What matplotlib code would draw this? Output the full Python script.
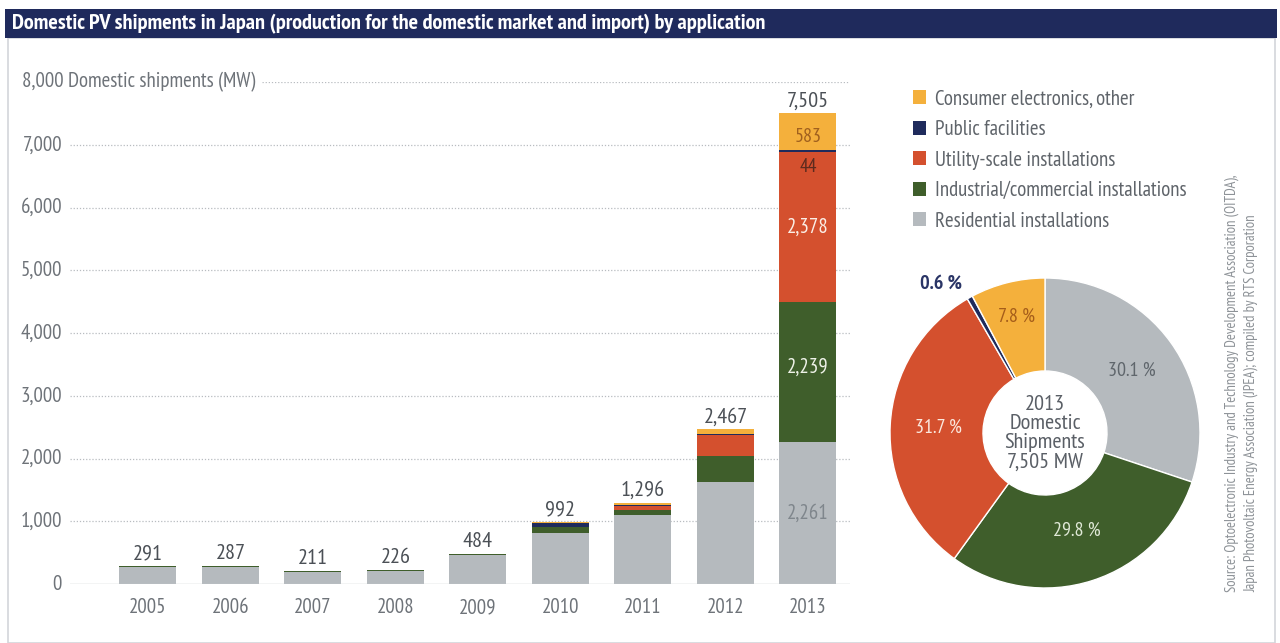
import matplotlib
matplotlib.use("Agg")
import matplotlib.pyplot as plt
from matplotlib.patches import Rectangle, Patch
from matplotlib.transforms import blended_transform_factory
import numpy as np

plt.rcParams['font.family'] = ['PT Sans Narrow', 'Fira Sans Condensed', 'DejaVu Sans']
plt.rcParams['font.stretch'] = 'condensed'

# domestic shipments by application, MW
years = ['2005', '2006', '2007', '2008', '2009', '2010', '2011', '2012', '2013']
residential = [278, 272, 196, 212, 455, 812, 1100, 1625, 2261]
industrial = [10, 10, 10, 8, 20, 95, 85, 415, 2239]
utility = [0, 0, 0, 0, 0, 5, 60, 335, 2378]
public = [1, 1, 1, 2, 5, 60, 11, 12, 44]
consumer = [2, 4, 4, 4, 4, 20, 40, 80, 583]
totals = [291, 287, 211, 226, 484, 992, 1296, 2467, 7505]

series_names = ['Residential installations', 'Industrial/commercial installations',
                'Utility-scale installations', 'Public facilities',
                'Consumer electronics, other']
colors = ['#b5babe', '#3f5e2b', '#d4502e', '#1f2b5c', '#f4b03c']
yticks = [0, 1000, 2000, 3000, 4000, 5000, 6000, 7000]
ytick_labels = ['0', '1,000', '2,000', '3,000', '4,000', '5,000', '6,000', '7,000']

W, H = 1280, 643
fig = plt.figure(figsize=(12.8, 6.43), dpi=100)
fig.patch.set_facecolor('white')

# header bar and frame
fig.patches.append(Rectangle((8 / W, 0.0), 1267 / W, 1 - 38 / H, transform=fig.transFigure,
                             facecolor='none', edgecolor='#d3d6da', linewidth=1.2))
fig.patches.append(Rectangle((5 / W, 1 - 38 / H), 1272 / W, 29 / H, transform=fig.transFigure,
                             facecolor='#1f2a5c', edgecolor='none'))
fig.text(12 / W, 1 - 24 / H,
         'Domestic PV shipments in Japan (production for the domestic market and import) by application',
         color='white', fontsize=16, fontweight='bold', va='center', ha='left')

# stacked bars
ax = fig.add_axes([70 / W, 1 - 584 / H, 780 / W, 502 / H])
x = np.arange(len(years))
stack = [residential, industrial, utility, public, consumer]
bottom = np.zeros(len(years))
for vals, c in zip(stack, colors):
    ax.bar(x, vals, width=0.69, bottom=bottom, color=c, zorder=2)
    bottom += np.array(vals)

ax.set_xlim(-0.945, 8.51)
ax.set_ylim(0, 8000)
for s in ax.spines.values():
    s.set_visible(False)
ax.set_yticks([])
ax.set_xticks(x)
ax.set_xticklabels(years, color='#6e7379', fontsize=15)
ax.tick_params(axis='x', length=0, pad=10)

for y in yticks[1:]:
    ax.axhline(y, color='#b8bcc0', lw=0.9, ls=(0, (1, 1.5)), zorder=1)
ax.axhline(8000, xmin=(262 - 70) / 780, color='#b8bcc0', lw=0.9, ls=(0, (1, 1.5)), zorder=1)
ax.axhline(0, color='#c4c7cb', lw=1.0, zorder=3)

tr = blended_transform_factory(fig.transFigure, ax.transData)
for y, lab in zip(yticks, ytick_labels):
    ax.text(62 / W, y, lab, transform=tr, ha='right', va='center',
            color='#6e7379', fontsize=15)
ax.text(22 / W, 8000, '8,000 Domestic shipments (MW)', transform=tr, ha='left',
        va='center', color='#6e7379', fontsize=15)

for xi, t in zip(x, totals):
    ax.text(xi, t + 40, f'{t:,}', ha='center', va='bottom', color='#4b5056', fontsize=16)

# segment values in the 2013 bar
i = len(years) - 1
r, ind, u, p, c = residential[i], industrial[i], utility[i], public[i], consumer[i]
ax.text(i, r / 2, f'{r:,}', ha='center', va='center', color='#7f868c', fontsize=15)
ax.text(i, r + ind / 2 + 80, f'{ind:,}', ha='center', va='center', color='#eef2e8', fontsize=15)
ax.text(i, r + ind + u / 2, f'{u:,}', ha='center', va='center', color='#fbeee6', fontsize=15)
ax.text(i, r + ind + u - 230, f'{p:,}', ha='center', va='center', color='#5c2a1e', fontsize=14)
ax.text(i, r + ind + u + p + c / 2 - 90, f'{c:,}', ha='center', va='center', color='#a0601e', fontsize=14.5)

# legend
handles = [Patch(facecolor=col, edgecolor='none') for col in colors][::-1]
fig.legend(handles, series_names[::-1], loc='upper left',
           bbox_to_anchor=(894 / W, 1 - 71 / H), frameon=False, fontsize=15,
           handlelength=0.65, handleheight=0.65, handletextpad=0.4,
           labelspacing=0.55, labelcolor='#5f646a')

# 2013 share donut
R = 155
cx, cy = 1045, 433
pax = fig.add_axes([(cx - R) / W, 1 - (cy + R) / H, 2 * R / W, 2 * R / H])
shares = [v[i] for v in stack]
wedges, _ = pax.pie(shares, colors=colors, startangle=90, counterclock=False,
                    radius=1, wedgeprops=dict(width=0.6, edgecolor='white', linewidth=1))
pax.set_xlim(-1, 1)
pax.set_ylim(-1, 1)
pax.set_aspect('equal')

total13 = sum(shares)
pct_colors = ['#5f666c', '#dfe8d6', '#fbe8de', '#2a3566', '#a55d1a']
pct_radius = [0.69, 0.66, 0.69, 1.1, 0.77]
for w, v, col, rr in zip(wedges, shares, pct_colors, pct_radius):
    ang = np.deg2rad((w.theta1 + w.theta2) / 2)
    outside = rr > 1
    pax.text(rr * np.cos(ang), rr * np.sin(ang), f'{100 * v / total13:.1f} %',
             ha='right' if outside else 'center', va='center', color=col, fontsize=14.5,
             fontweight='bold' if outside else 'normal')
pax.text(0, 0, f'2013\nDomestic\nShipments\n{total13:,} MW', ha='center', va='center',
         color='#5a5f66', fontsize=16, linespacing=1.02)

fig.text(1241 / W, 1 - 592 / H,
         'Source: Optoelectronic Industry and Technology Development Association (OITDA),\n'
         'Japan Photovoltaic Energy Association (JPEA); compiled by RTS Corporation',
         rotation=90, ha='center', va='bottom', color='#8d9297', fontsize=10.5,
         multialignment='left', linespacing=1.45)

fig.savefig('out.png', dpi=100)
